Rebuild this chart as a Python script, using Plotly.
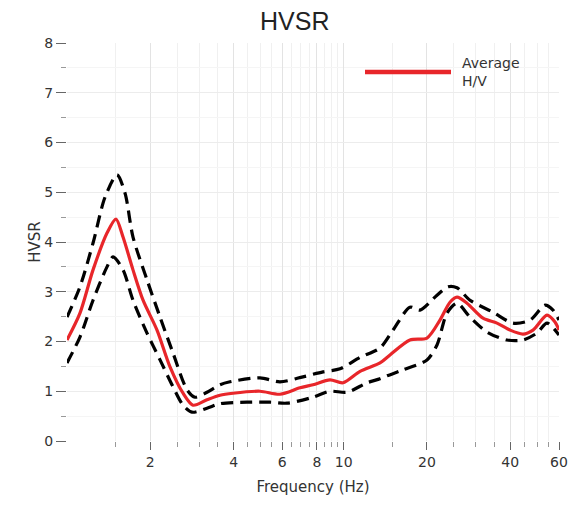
import numpy as np
import plotly.graph_objects as go

# Average H/V curve
avg_freq = [1.0, 1.114, 1.242, 1.395, 1.503, 1.594, 1.732, 1.883, 2.115, 2.357, 2.627, 2.854,
            3.206, 3.572, 3.981, 4.984, 5.886, 6.952, 7.745, 8.924, 9.94, 11.46, 13.53, 14.70,
            17.36, 20.0, 22.28, 24.22, 25.67, 27.9, 31.88, 35.81, 39.90, 44.46, 48.32, 54.30,
            58.03, 60.0]
avg_hv = [2.03, 2.57, 3.44, 4.18, 4.46, 4.10, 3.44, 2.83, 2.23, 1.49, 0.96, 0.72,
          0.83, 0.92, 0.96, 1.0, 0.94, 1.07, 1.13, 1.23, 1.17, 1.40, 1.57, 1.73,
          2.03, 2.07, 2.43, 2.79, 2.89, 2.77, 2.47, 2.37, 2.23, 2.15, 2.23, 2.53,
          2.39, 2.23]

# Upper bound (+1 std)
up_freq = [1.0, 1.114, 1.242, 1.372, 1.516, 1.621, 1.732, 1.946, 2.169, 2.416, 2.715, 2.902,
           3.206, 3.572, 3.882, 4.984, 5.886, 7.128, 8.420, 9.697, 11.46, 13.53, 15.08, 17.36,
           18.87, 21.74, 23.82, 25.67, 28.61, 34.64, 40.92, 47.13, 53.40, 57.08, 60.0]
up_hv = [2.49, 3.1, 3.98, 4.9, 5.35, 4.98, 4.1, 3.24, 2.49, 1.77, 1.03, 0.88,
         0.98, 1.13, 1.19, 1.27, 1.19, 1.29, 1.39, 1.45, 1.68, 1.87, 2.23, 2.69,
         2.63, 2.93, 3.1, 3.08, 2.83, 2.59, 2.37, 2.43, 2.73, 2.63, 2.43]

# Lower bound (-1 std)
lo_freq = [1.0, 1.114, 1.242, 1.395, 1.467, 1.594, 1.732, 1.946, 2.169, 2.416, 2.627, 2.830,
           3.206, 3.572, 4.472, 5.416, 6.239, 7.745, 8.924, 10.28, 12.14, 13.53, 14.34,
           16.38, 20.0, 21.74, 23.62, 25.67, 28.61, 32.96, 38.92, 44.46, 49.94, 54.30, 60.0]
lo_hv = [1.57, 2.09, 2.83, 3.5, 3.70, 3.44, 2.83, 2.17, 1.63, 1.09, 0.72, 0.58,
         0.66, 0.75, 0.78, 0.78, 0.76, 0.88, 1.0, 0.98, 1.17, 1.25, 1.31,
         1.43, 1.63, 1.93, 2.57, 2.77, 2.49, 2.19, 2.03, 2.03, 2.17, 2.37, 2.13]

x_major = [2, 4, 6, 8, 10, 20, 40, 60]
x_labels = ["2", "4", "6", "8", "10", "20", "40", "60"]
x_minor = [1.5, 2.5, 3, 3.5, 4.5, 5, 5.5, 6.5, 7, 7.5, 8.5, 9, 9.5,
           15, 25, 30, 35, 45, 50, 55]
y_major = [0, 1, 2, 3, 4, 5, 6, 7, 8]

FONT = "DejaVu Sans"
dash = "12px,7px"
RED = "#e8262a"

fig = go.Figure()
fig.add_trace(go.Scatter(x=up_freq, y=up_hv, mode="lines",
                         line=dict(color="black", width=3.2, dash=dash, shape="spline", smoothing=0.8),
                         showlegend=False, hoverinfo="skip"))
fig.add_trace(go.Scatter(x=lo_freq, y=lo_hv, mode="lines",
                         line=dict(color="black", width=3.2, dash=dash, shape="spline", smoothing=0.8),
                         showlegend=False, hoverinfo="skip"))
fig.add_trace(go.Scatter(x=avg_freq, y=avg_hv, mode="lines", name="Average H/V",
                         line=dict(color=RED, width=3.2, shape="spline", smoothing=0.8), showlegend=False))

# page body adds an 8px offset; margins compensate for it
fig.update_layout(
    width=577, height=505,
    margin=dict(l=59, r=26, t=35, b=72),
    paper_bgcolor="white", plot_bgcolor="white",
    font=dict(family=FONT, size=14, color="#333"),
    title=dict(text="HVSR", x=0.463, xref="paper", xanchor="center",
               y=1 - 13 / 505, yref="container", yanchor="middle",
               font=dict(family="Liberation Sans", size=25, color="#222")),
    showlegend=False,
)
fig.update_xaxes(
    type="log", range=[0, np.log10(60)],
    tickmode="array", tickvals=x_major, ticktext=x_labels,
    ticks="outside", ticklen=8, tickcolor="#666", tickwidth=1,
    showgrid=True, gridcolor="#e3e3e3", gridwidth=1,
    showline=False, zeroline=False,
    tickfont=dict(size=14, color="#333"),
    title=dict(text="Frequency (Hz)", font=dict(size=15, color="#333"), standoff=12),
    minor=dict(tickmode="array", tickvals=x_minor, ticks="outside", ticklen=5, tickcolor="#999",
               showgrid=True, gridcolor="#f0f0f0", gridwidth=1),
)
fig.update_yaxes(
    range=[0, 8], tickmode="array", tickvals=y_major,
    ticks="outside", ticklen=10, tickcolor="#666", tickwidth=1,
    showgrid=True, gridcolor="#ececec", gridwidth=1,
    showline=False, zeroline=False,
    tickfont=dict(size=14, color="#333"),
    title=dict(text="HVSR", font=dict(size=15, color="#333"), standoff=0),
    minor=dict(dtick=0.5, ticks="outside", ticklen=5, tickcolor="#999",
               showgrid=True, gridcolor="#f5f5f5", gridwidth=1),
)

# legend drawn as a line + label inside the plot
fig.add_shape(type="line", xref="paper", yref="paper", x0=(365 - 67) / 492, x1=(451 - 67) / 492,
              y0=(441 - 72) / 398, y1=(441 - 72) / 398, line=dict(color=RED, width=4.5))
fig.add_annotation(xref="paper", yref="paper", x=(460 - 67) / 492, y=(441 - 72) / 398,
                   text="Average<br>H/V", showarrow=False, xanchor="left", yanchor="middle",
                   align="left", font=dict(family=FONT, size=14, color="#333"))

fig.write_html("out.html")
